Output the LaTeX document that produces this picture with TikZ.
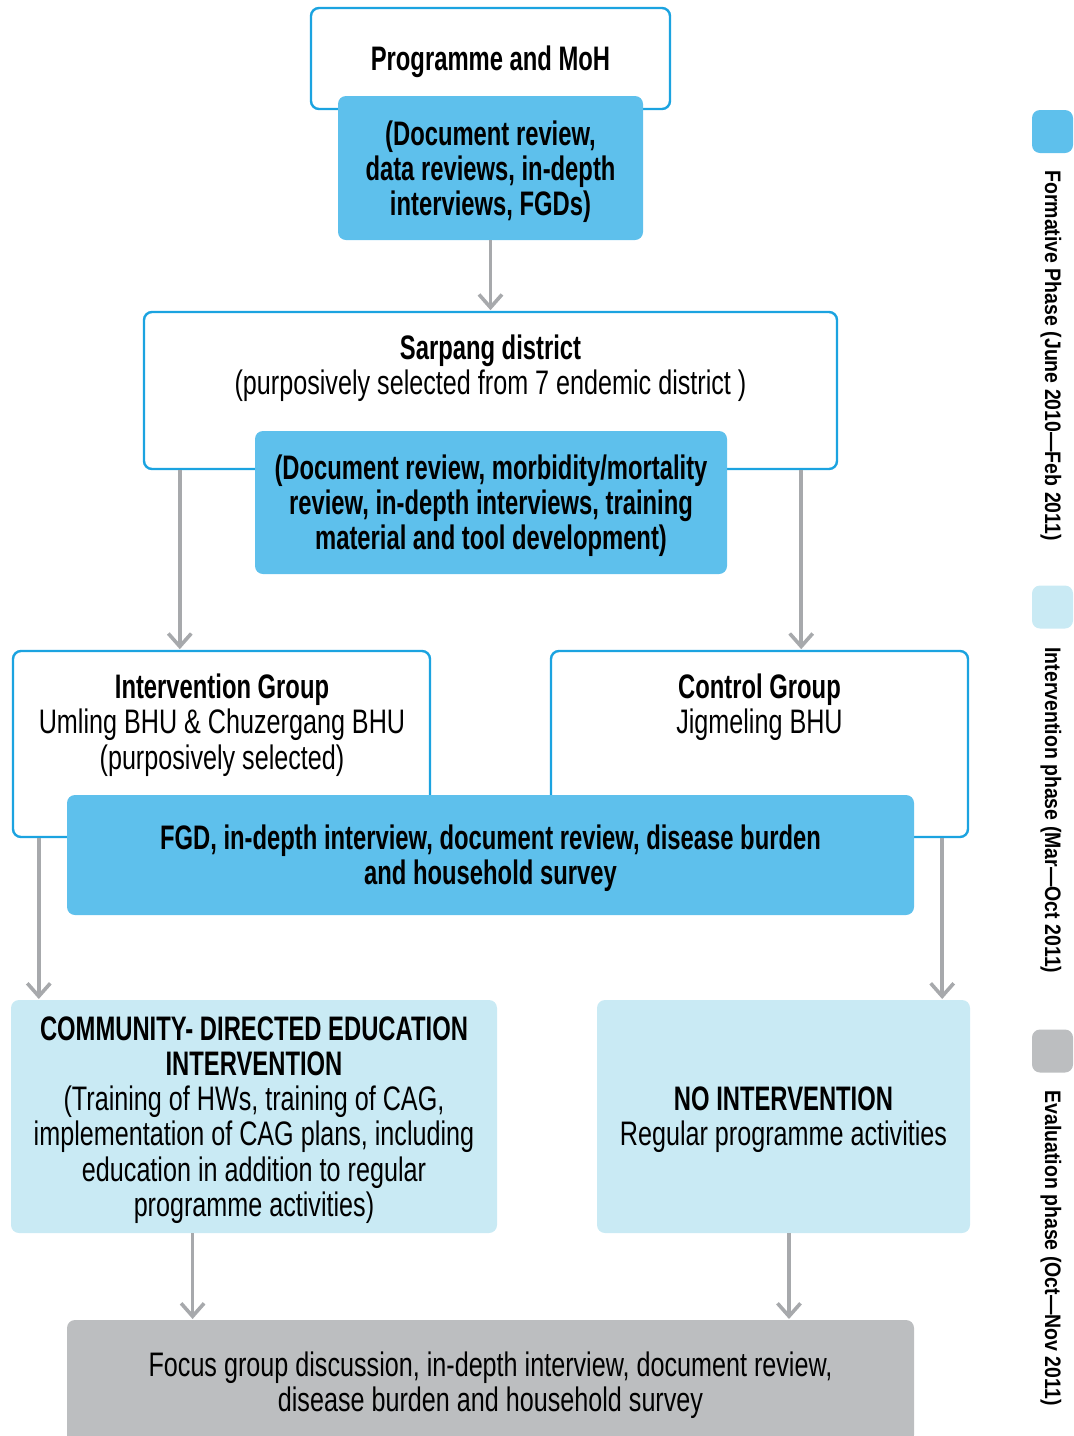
\documentclass[tikz,border=0pt]{standalone}
\usepackage{fontspec}
\setmainfont{Liberation Sans}[UprightFeatures={FakeStretch=0.74},BoldFeatures={FakeStretch=0.70}]
\newfontfamily\legendfont{Liberation Sans}[FakeStretch=0.87]
\usetikzlibrary{arrows.meta,calc}
\definecolor{rimblue}{HTML}{1BA3E0}
\definecolor{midblue}{HTML}{5EC0EC}
\definecolor{paleblue}{HTML}{C9EAF4}
\definecolor{evalgray}{HTML}{BCBEC0}
\definecolor{arrowgray}{HTML}{A7A9AC}

\begin{document}
\begin{tikzpicture}[x=0.5pt,y=-0.5pt,
  base/.style={rectangle,rounded corners=4pt,inner sep=0pt},
  boxsize/.style 2 args={minimum width=#1*0.5pt,minimum height=#2*0.5pt},
  rimbox/.style={base,draw=rimblue,line width=1.2pt,fill=white},
  workbox/.style={base,fill=midblue},
  actbox/.style={base,fill=paleblue},
  evalbox/.style={base,fill=evalgray},
  txt/.style={align=center,inner sep=0pt,yshift=-1.75pt,font=\fontsize{17}{17.6}\selectfont},
  flow/.style={draw=arrowgray,line width=1.8pt,-{Straight Barb[length=6.5pt,width=11.5pt]},shorten >=0.3pt},
  swatch/.style={rectangle,rounded corners=4pt,minimum width=20.5pt,minimum height=21.5pt},
  phase/.style={rotate=-90,anchor=base west,inner sep=0pt,font=\legendfont\bfseries\fontsize{11.2}{13}\selectfont}]
\useasboundingbox (0,0) rectangle (1073,1436);

% formative phase
\node[rimbox,boxsize={359}{101}] (moh) at (490.5,58.5) {};
\node[txt] (mohtxt) at (moh) {\textbf{Programme and MoH}};
\node[workbox,boxsize={305}{144}] (mohwork) at (490.5,168) {};
\node[txt] (mohworktxt) at (mohwork)
  {\textbf{(Document review,}\\\textbf{data reviews, in-depth}\\\textbf{interviews, FGDs)}};
\node[rimbox,boxsize={693}{157}] (sarpang) at (490.5,390.5) {};
\node[txt] (sarpangtxt) at (490.5,364.5)
  {\textbf{Sarpang district}\\(purposively selected from 7 endemic district )};
\node[workbox,boxsize={472}{143}] (sarpangwork) at (491,502.5) {};
\node[txt] (sarpangworktxt) at (sarpangwork)
  {\textbf{(Document review, morbidity/mortality}\\\textbf{review, in-depth interviews, training}\\\textbf{material and tool development)}};

% groups
\node[rimbox,boxsize={417}{186}] (intgrp) at (221.5,744) {};
\node[txt] (inttxt) at (222,721.5)
  {\textbf{Intervention Group}\\Umling BHU \& Chuzergang BHU\\(purposively selected)};
\node[rimbox,boxsize={417}{186}] (ctrlgrp) at (759.5,744) {};
\node[txt] (ctrltxt) at (759.5,703.5) {\textbf{Control Group}\\Jigmeling BHU};
\node[workbox,boxsize={847}{120}] (basework) at (490.5,855) {};
\node[txt] (baseworktxt) at (basework)
  {\textbf{FGD, in-depth interview, document review, disease burden}\\\textbf{and household survey}};

% intervention phase
\node[actbox,boxsize={486}{233}] (cdei) at (254,1116.5) {};
\node[txt] (cdeitxt) at (cdei)
  {\textbf{COMMUNITY- DIRECTED EDUCATION}\\\textbf{INTERVENTION}\\(Training of HWs, training of CAG,\\implementation of CAG plans, including\\education in addition to regular\\programme activities)};
\node[actbox,boxsize={373}{233}] (noint) at (783.5,1116.5) {};
\node[txt] (nointtxt) at (noint) {\textbf{NO INTERVENTION}\\Regular programme activities};

% evaluation phase
\node[evalbox,boxsize={847}{123}] (endline) at (490.5,1381.5) {};
\node[txt] (endlinetxt) at (endline)
  {Focus group discussion, in-depth interview, document review,\\disease burden and household survey};

\coordinate (tapL) at ($(sarpang.south west)+(37,0)$);
\coordinate (tapR) at ($(sarpang.south east)+(-37,0)$);
\coordinate (tapIL) at ($(intgrp.south west)+(27,0)$);
\coordinate (tapCR) at ($(ctrlgrp.south east)+(-27,0)$);
\coordinate (tapE1) at ($(cdei.south west)+(182,0)$);
\coordinate (tapE2) at ($(noint.south)+(5.5,0)$);

\draw[flow] (mohwork.south) -- (sarpang.north);
\draw[flow] (tapL) -- (tapL |- intgrp.north);
\draw[flow] (tapR) -- (tapR |- ctrlgrp.north);
\draw[flow] (tapIL) -- (tapIL |- cdei.north);
\draw[flow] (tapCR) -- (tapCR |- noint.north);
\draw[flow] (tapE1) -- (tapE1 |- endline.north);
\draw[flow] (tapE2) -- (tapE2 |- endline.north);

% legend
\foreach \n/\y/\ty/\c/\t in {form/131.5/170/midblue/{Formative Phase (June 2010—Feb 2011)},
    intv/607/647/paleblue/{Intervention phase (Mar—Oct 2011)},
    eval/1051/1090/evalgray/{Evaluation phase (Oct—Nov 2011)}}{
  \node[swatch,fill=\c] (sw\n) at (1052.5,\y) {};
  \node[phase] (ph\n) at (1045,\ty) {\t};
}
\end{tikzpicture}
\end{document}
